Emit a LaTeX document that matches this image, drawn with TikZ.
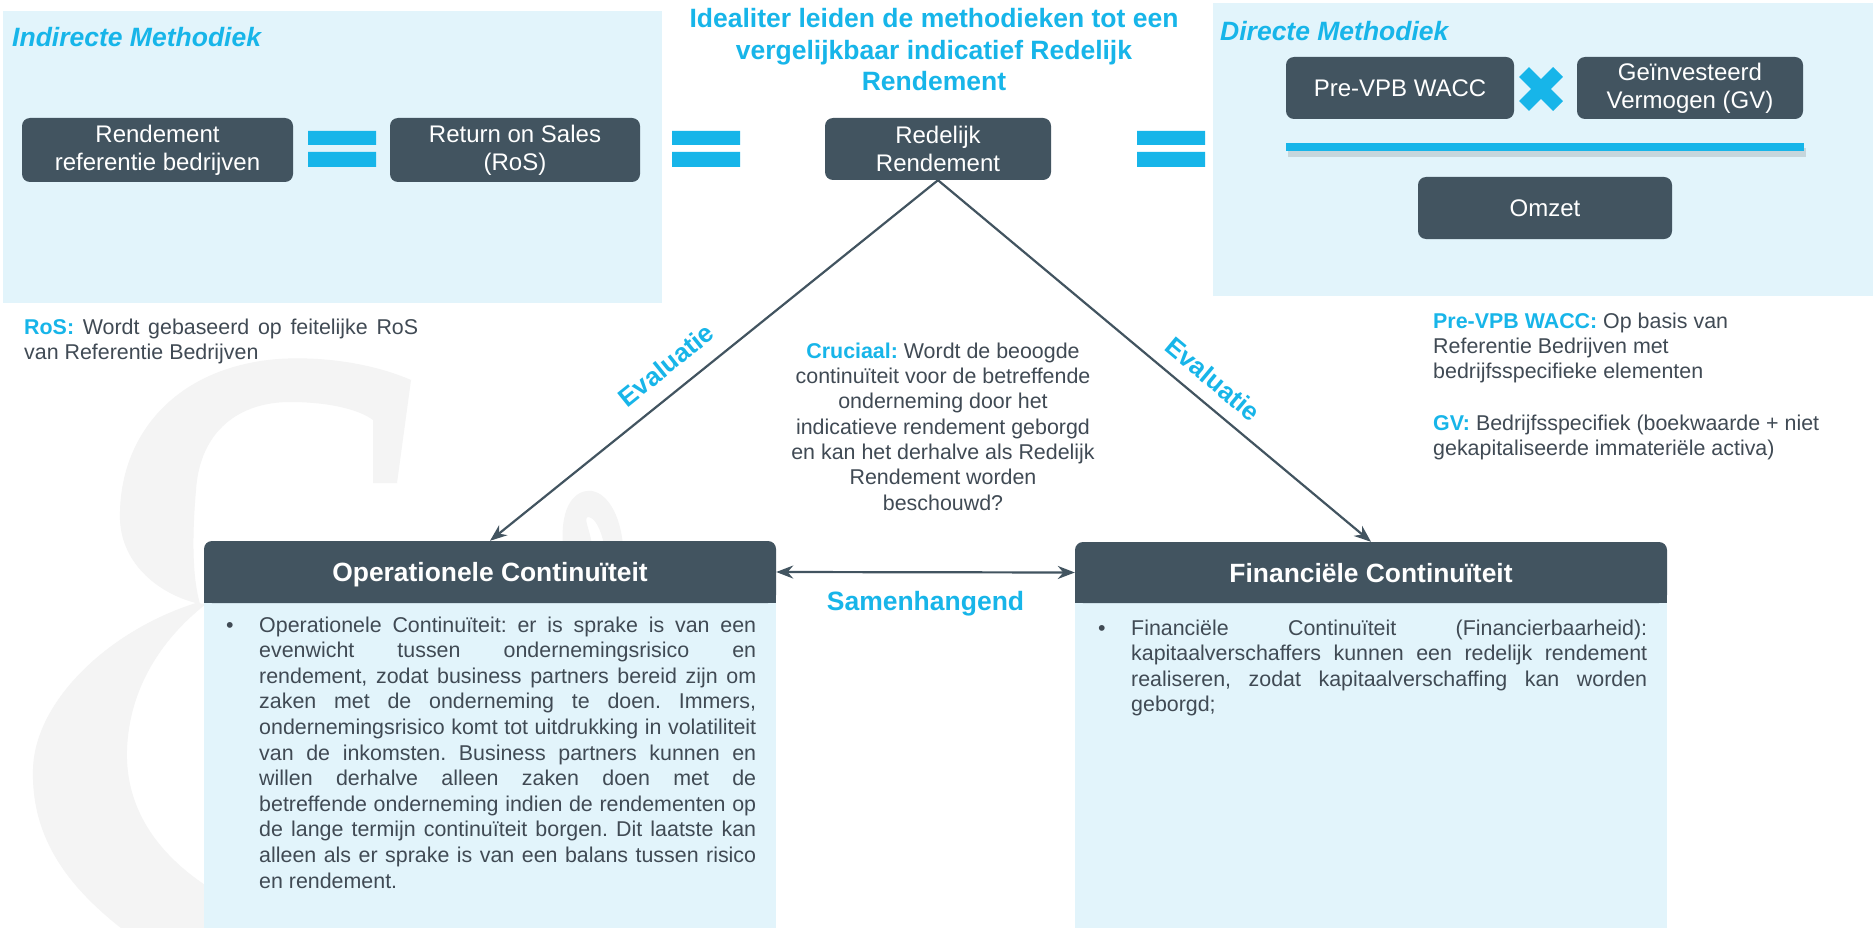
\documentclass[tikz,border=0pt]{standalone}
\usepackage{fontspec}
\setsansfont{Liberation Sans}
\renewcommand{\familydefault}{\sfdefault}
\usetikzlibrary{arrows.meta}
\definecolor{boxc}{RGB}{66,84,96}
\definecolor{cyanc}{RGB}{23,181,233}
\definecolor{panelc}{RGB}{226,244,251}
\definecolor{textc}{RGB}{64,74,84}
\definecolor{wmc}{RGB}{244,244,244}
\begin{document}
\frenchspacing
\begin{tikzpicture}[x=1pt,y=-1pt,
  darkbox/.style={fill=boxc, rounded corners=8pt, text=white, align=center, inner sep=0pt,
    font=\fontsize{24}{28}\selectfont},
  header/.style={fill=boxc, rounded corners=8pt, text=white, inner sep=0pt,
    text height=24pt, text depth=5pt, font=\bfseries\fontsize{26.4}{30}\selectfont},
  conn/.style={draw=boxc, line width=2.2pt},
  cyantitle/.style={text=cyanc, inner sep=0pt, font=\bfseries\fontsize{26.5}{31.7}\selectfont},
  paneltitle/.style={text=cyanc, inner sep=0pt, anchor=base west, font=\bfseries\itshape\fontsize{26.5}{31}\selectfont},
  evl/.style={text=cyanc, inner sep=0pt, font=\bfseries\fontsize{26}{30}\selectfont},
  bodytext/.style={text=textc, inner sep=0pt, anchor=base west, align=justify,
    font=\fontsize{21.4}{25.6}\selectfont},
  notetext/.style={text=textc, inner sep=0pt, anchor=base west, align=left,
    font=\fontsize{21.4}{25}\selectfont},
  bulletmark/.style={text=textc, inner sep=0pt, anchor=base west, font=\fontsize{21.4}{25.6}\selectfont},
  wmfill/.style={fill=wmc},
  >={Stealth[length=17pt,width=13pt]}
]
\useasboundingbox (0,0) rectangle (1873,928);
\fill[white] (0,0) rectangle (1873,928);
% watermark ampersand (upper bowl, lower bowl, arm)
\fill[wmfill] (397,483) -- (411,380) .. controls (360,358) and (300,356) .. (268,360)
  .. controls (170,372) and (118,440) .. (120,520) .. controls (122,565) and (160,595) .. (200,604)
  .. controls (196,590) and (190,560) .. (196,490) .. controls (200,430) and (240,402) .. (290,402)
  .. controls (330,402) and (360,410) .. (373,420) -- (373,483) -- cycle;
\fill[wmfill] (196,603) .. controls (110,630) and (35,700) .. (33,769)
  .. controls (31,840) and (70,890) .. (130,935) -- (230,935) -- (230,900)
  .. controls (165,865) and (125,815) .. (127,750) .. controls (129,690) and (160,640) .. (206,604) -- cycle;
\fill[wmfill] (563,545) .. controls (560,506) and (575,489) .. (592,491)
  .. controls (608,494) and (620,515) .. (623,545) -- (604,545)
  .. controls (601,528) and (594,517) .. (588,517) .. controls (583,518) and (590,530) .. (592,545) -- cycle;
% panels
\fill[panelc] (3,11) rectangle (662,303);
\fill[panelc] (1213,3) rectangle (1873,296);
\node[paneltitle] (indt) at (12,47) {Indirecte Methodiek};
\node[paneltitle] (dirt) at (1220,41) {Directe Methodiek};
% left panel boxes
\node[darkbox, minimum width=271pt, minimum height=64pt] (ref) at (157.5,150) {Rendement\\referentie bedrijven};
\node[darkbox, minimum width=250pt, minimum height=64pt] (ros) at (515,150) {Return on Sales\\(RoS)};
\node[darkbox, minimum width=226pt, minimum height=62pt] (rr) at (938,149) {Redelijk\\Rendement};
% equal signs
\fill[cyanc] (308,131) rectangle (376,145) (308,152) rectangle (376,167);
\fill[cyanc] (672,131) rectangle (740,145) (672,152) rectangle (740,167);
\fill[cyanc] (1137,131) rectangle (1205,145) (1137,152) rectangle (1205,167);
% right panel
\node[darkbox, minimum width=228pt, minimum height=62pt] (wacc) at (1400,88) {Pre-VPB WACC};
\node[darkbox, minimum width=226pt, minimum height=62pt] (gv) at (1690,88) {Geïnvesteerd\\Vermogen (GV)};
\draw[cyanc, line width=14pt] (1524,72) -- (1558,106) (1558,72) -- (1524,106);
\fill[black, opacity=0.12] (1288,148) rectangle (1806,157);
\fill[cyanc] (1286,143) rectangle (1804,151);
\node[darkbox, minimum width=254pt, minimum height=62pt] (omzet) at (1545,208) {Omzet};
% title
\node[cyantitle, align=center, anchor=base] (title) at (934,91) {Idealiter leiden de methodieken tot een\\vergelijkbaar indicatief Redelijk\\Rendement};
% notes
\node[bodytext, text width=394pt] (rosn) at (24,334) {\hyphenpenalty=10000\tolerance=10000 \textcolor{cyanc}{\textbf{RoS:}} Wordt gebaseerd op feitelijke RoS\linebreak van Referentie Bedrijven};
\node[notetext] (waccn) at (1433,378) {\textcolor{cyanc}{\textbf{Pre-VPB WACC:}} Op basis van\\Referentie Bedrijven met\\bedrijfsspecifieke elementen};
\node[notetext] (gvn) at (1433,455) {\textcolor{cyanc}{\textbf{GV:}} Bedrijfsspecifiek (boekwaarde + niet\\gekapitaliseerde immateriële activa)};
\node[text=textc, inner sep=0pt, align=center, anchor=base, font=\fontsize{21.4}{25.3}\selectfont] (cru) at (943,510)
  {\textcolor{cyanc}{\textbf{Cruciaal:}} Wordt de beoogde\\continuïteit voor de betreffende\\onderneming door het\\indicatieve rendement geborgd\\en kan het derhalve als Redelijk\\Rendement worden\\beschouwd?};
% bottom boxes
\fill[panelc] (204,590) rectangle (776,930);
\node[header, minimum width=572pt, minimum height=62pt] (opc) at (490,572) {Operationele Continuïteit};
\fill[boxc] (204,590) rectangle (776,603);
\fill[panelc] (1075,590) rectangle (1667,930);
\node[header, minimum width=592pt, minimum height=61pt] (fin) at (1371,572.5) {Financiële Continuïteit};
\fill[boxc] (1075,590) rectangle (1667,603);
\node[bulletmark] (b1) at (226,632) {•};
\node[bodytext, text width=497pt] (opt) at (259,632) {\hyphenpenalty=10000\tolerance=10000 Operationele Continuïteit: er is sprake is van een\linebreak evenwicht tussen ondernemingsrisico en\linebreak rendement, zodat business partners bereid zijn om\linebreak zaken met de onderneming te doen. Immers,\linebreak ondernemingsrisico komt tot uitdrukking in volatiliteit\linebreak van de inkomsten. Business partners kunnen en\linebreak willen derhalve alleen zaken doen met de\linebreak betreffende onderneming indien de rendementen op\linebreak de lange termijn continuïteit borgen. Dit laatste kan\linebreak alleen als er sprake is van een balans tussen risico\linebreak en rendement.};
\node[bulletmark] (b2) at (1098,635) {•};
\node[bodytext, text width=516pt] (fint) at (1131,635) {\hyphenpenalty=10000\tolerance=10000 Financiële Continuïteit (Financierbaarheid):\linebreak kapitaalverschaffers kunnen een redelijk rendement\linebreak realiseren, zodat kapitaalverschaffing kan worden\linebreak geborgd;};
% connectors
\draw[conn, ->] (rr.south) -- (opc.north) node[evl, pos=0.57, sloped, above=16pt] (ev1) {Evaluatie};
\draw[conn, ->] (rr.south) -- (fin.north) node[evl, pos=0.6, sloped, above=13pt] (ev2) {Evaluatie};
\draw[conn, <->] (opc.east) -- (fin.west);
\node[cyantitle, anchor=base] (samen) at (925.5,610) {Samenhangend};
\end{tikzpicture}
\end{document}
